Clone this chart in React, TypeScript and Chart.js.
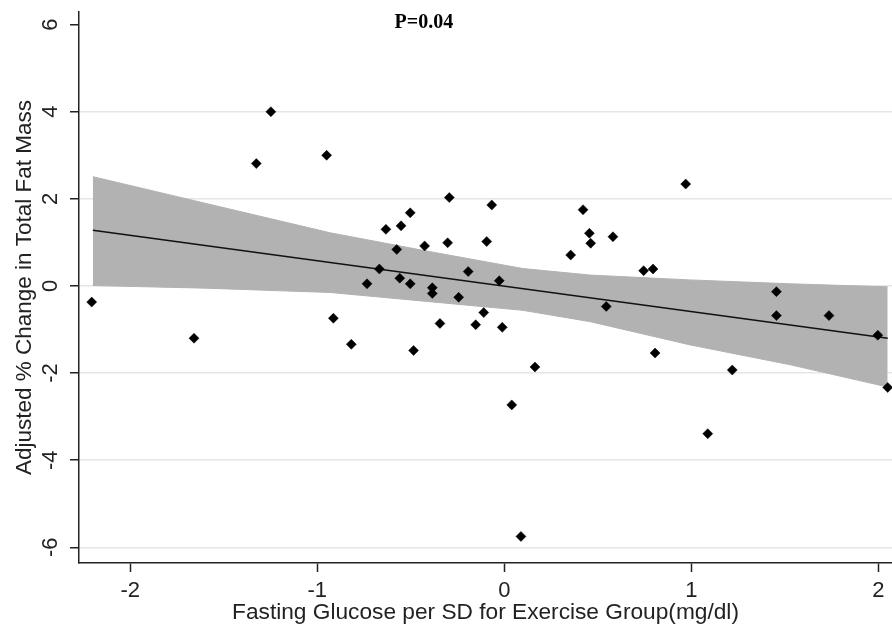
import React, { useEffect, useRef } from 'react';
import { Chart, registerables } from 'chart.js';

Chart.register(...registerables);

// Scatter data: fasting glucose (per SD) vs adjusted % change in total fat mass
const glucoseSD = [
  -2.206, -1.659, -1.326, -1.248, -0.95, -0.914, -0.818, -0.734, -0.668, -0.633,
  -0.575, -0.559, -0.552, -0.503, -0.503, -0.485, -0.426, -0.385, -0.385, -0.344,
  -0.303, -0.294, -0.244, -0.193, -0.153, -0.11, -0.094, -0.067, -0.027, -0.011,
  0.04, 0.089, 0.164, 0.355, 0.421, 0.455, 0.462, 0.545, 0.581, 0.745,
  0.795, 0.806, 0.97, 1.088, 1.219, 1.455, 1.455, 1.736, 1.997, 2.05,
];
const fatChange = [
  -0.37, -1.2, 2.81, 4.0, 3.0, -0.74, -1.34, 0.05, 0.39, 1.3,
  0.84, 0.18, 1.38, 1.68, 0.05, -1.48, 0.92, -0.04, -0.17, -0.86,
  0.99, 2.03, -0.26, 0.33, -0.89, -0.61, 1.02, 1.86, 0.12, -0.95,
  -2.73, -5.75, -1.86, 0.71, 1.75, 1.21, 0.98, -0.47, 1.13, 0.35,
  0.39, -1.54, 2.34, -3.39, -1.93, -0.13, -0.68, -0.68, -1.13, -2.33,
];

// Confidence band
const bandX = [-2.2, -1.6, -0.93, -0.4, 0.1, 0.46, 0.99, 1.53, 2.05];
const bandUpper = [2.51, 1.9, 1.22, 0.79, 0.4, 0.25, 0.14, 0.05, -0.02];
const bandLower = [0.01, -0.05, -0.15, -0.36, -0.56, -0.82, -1.35, -1.81, -2.32];

// Fitted line end points
const fitX = [-2.2, 2.05];
const fitY = [1.28, -1.2];

const xTicks = [-2, -1, 0, 1, 2];
const yTicks = [-6, -4, -2, 0, 2, 4, 6];

const xTitle = 'Fasting Glucose per SD for Exercise Group(mg/dl)';
const yTitle = 'Adjusted % Change in Total Fat Mass';
const pLabel = 'P=0.04';
const pLabelPos = { x: -0.43, y: 6.05 };

const SANS = '"Liberation Sans", Arial, sans-serif';
const TEXT = '#222222';

const pLabelPlugin = {
  id: 'pLabel',
  afterDatasetsDraw(chart: any) {
    const { ctx, scales } = chart;
    const px = scales.x.getPixelForValue(pLabelPos.x);
    const py = scales.y.getPixelForValue(pLabelPos.y);
    ctx.save();
    ctx.font = 'bold 20px "Liberation Serif", "DejaVu Serif", serif';
    ctx.fillStyle = '#000';
    ctx.textAlign = 'center';
    ctx.textBaseline = 'middle';
    ctx.fillText(pLabel, px, py);
    ctx.restore();
  },
};

export default function App() {
  const canvasRef = useRef<HTMLCanvasElement | null>(null);

  useEffect(() => {
    if (!canvasRef.current) return;
    const points = glucoseSD.map((x, i) => ({ x, y: fatChange[i] }));
    const upper = bandX.map((x, i) => ({ x, y: bandUpper[i] }));
    const lower = bandX.map((x, i) => ({ x, y: bandLower[i] }));
    const fit = fitX.map((x, i) => ({ x, y: fitY[i] }));

    const chart = new Chart(canvasRef.current, {
      type: 'line',
      data: {
        datasets: [
          {
            label: 'observed',
            data: points,
            showLine: false,
            pointStyle: 'rectRot',
            pointRadius: 5,
            pointBorderWidth: 0.5,
            pointBackgroundColor: '#000',
            pointBorderColor: '#000',
          },
          {
            label: 'fit',
            data: fit,
            borderColor: '#111',
            borderWidth: 1.4,
            pointRadius: 0,
            fill: false,
          },
          {
            label: 'upper',
            data: upper,
            borderColor: '#b2b2b2',
            borderWidth: 1,
            backgroundColor: '#b2b2b2',
            pointRadius: 0,
            fill: '+1',
          },
          {
            label: 'lower',
            data: lower,
            borderColor: '#b2b2b2',
            borderWidth: 1,
            pointRadius: 0,
            fill: false,
          },
        ],
      } as any,
      options: {
        animation: false,
        responsive: false,
        maintainAspectRatio: false,
        layout: { autoPadding: false, padding: { top: 12, right: 0, bottom: 0, left: 0 } },
        plugins: {
          legend: { display: false },
          tooltip: { enabled: false },
        },
        scales: {
          x: {
            type: 'linear',
            min: -2.274,
            max: 2.073,
            afterFit: (s: any) => {
              s.height = 63;
              s.paddingLeft = 0;
              s.paddingRight = 0;
            },
            afterBuildTicks: (s: any) => {
              s.ticks = xTicks.map((v) => ({ value: v }));
            },
            ticks: {
              autoSkip: false,
              maxRotation: 0,
              padding: 6,
              color: TEXT,
              font: { family: SANS, size: 22 },
            },
            grid: {
              drawOnChartArea: false,
              drawTicks: true,
              tickLength: 9,
              tickColor: '#222',
              tickWidth: 1.5,
            },
            border: { display: true, color: '#222', width: 1.5 },
            title: {
              display: true,
              text: xTitle,
              color: TEXT,
              font: { family: SANS, size: 22.7 },
              padding: { top: 0, bottom: 0 },
            },
          },
          y: {
            type: 'linear',
            min: -6.36,
            max: 6.29,
            afterFit: (s: any) => {
              s.width = 79;
              s.paddingTop = 0;
              s.paddingBottom = 0;
            },
            afterBuildTicks: (s: any) => {
              s.ticks = yTicks.map((v) => ({ value: v }));
            },
            ticks: {
              autoSkip: false,
              minRotation: 90,
              maxRotation: 90,
              crossAlign: 'center',
              padding: 9,
              color: TEXT,
              font: { family: SANS, size: 22 },
            },
            grid: {
              color: (c: any) => (c.tick && c.tick.value === 6 ? 'rgba(0,0,0,0)' : '#e6e6e6'),
              lineWidth: 1.5,
              drawTicks: true,
              tickLength: 9,
              tickColor: '#222',
              tickWidth: 1.5,
            },
            border: { display: true, color: '#222', width: 1.5 },
            title: {
              display: true,
              text: yTitle,
              color: TEXT,
              font: { family: SANS, size: 22.5 },
              padding: { top: 11, bottom: 0 },
            },
          },
        },
      } as any,
      plugins: [pLabelPlugin],
    });
    return () => chart.destroy();
  }, []);

  return (
    <div style={{ position: 'absolute', left: 0, top: 0, width: 892, height: 626, background: '#fff' }}>
      <canvas ref={canvasRef} width={892} height={626} style={{ display: 'block' }} />
    </div>
  );
}
